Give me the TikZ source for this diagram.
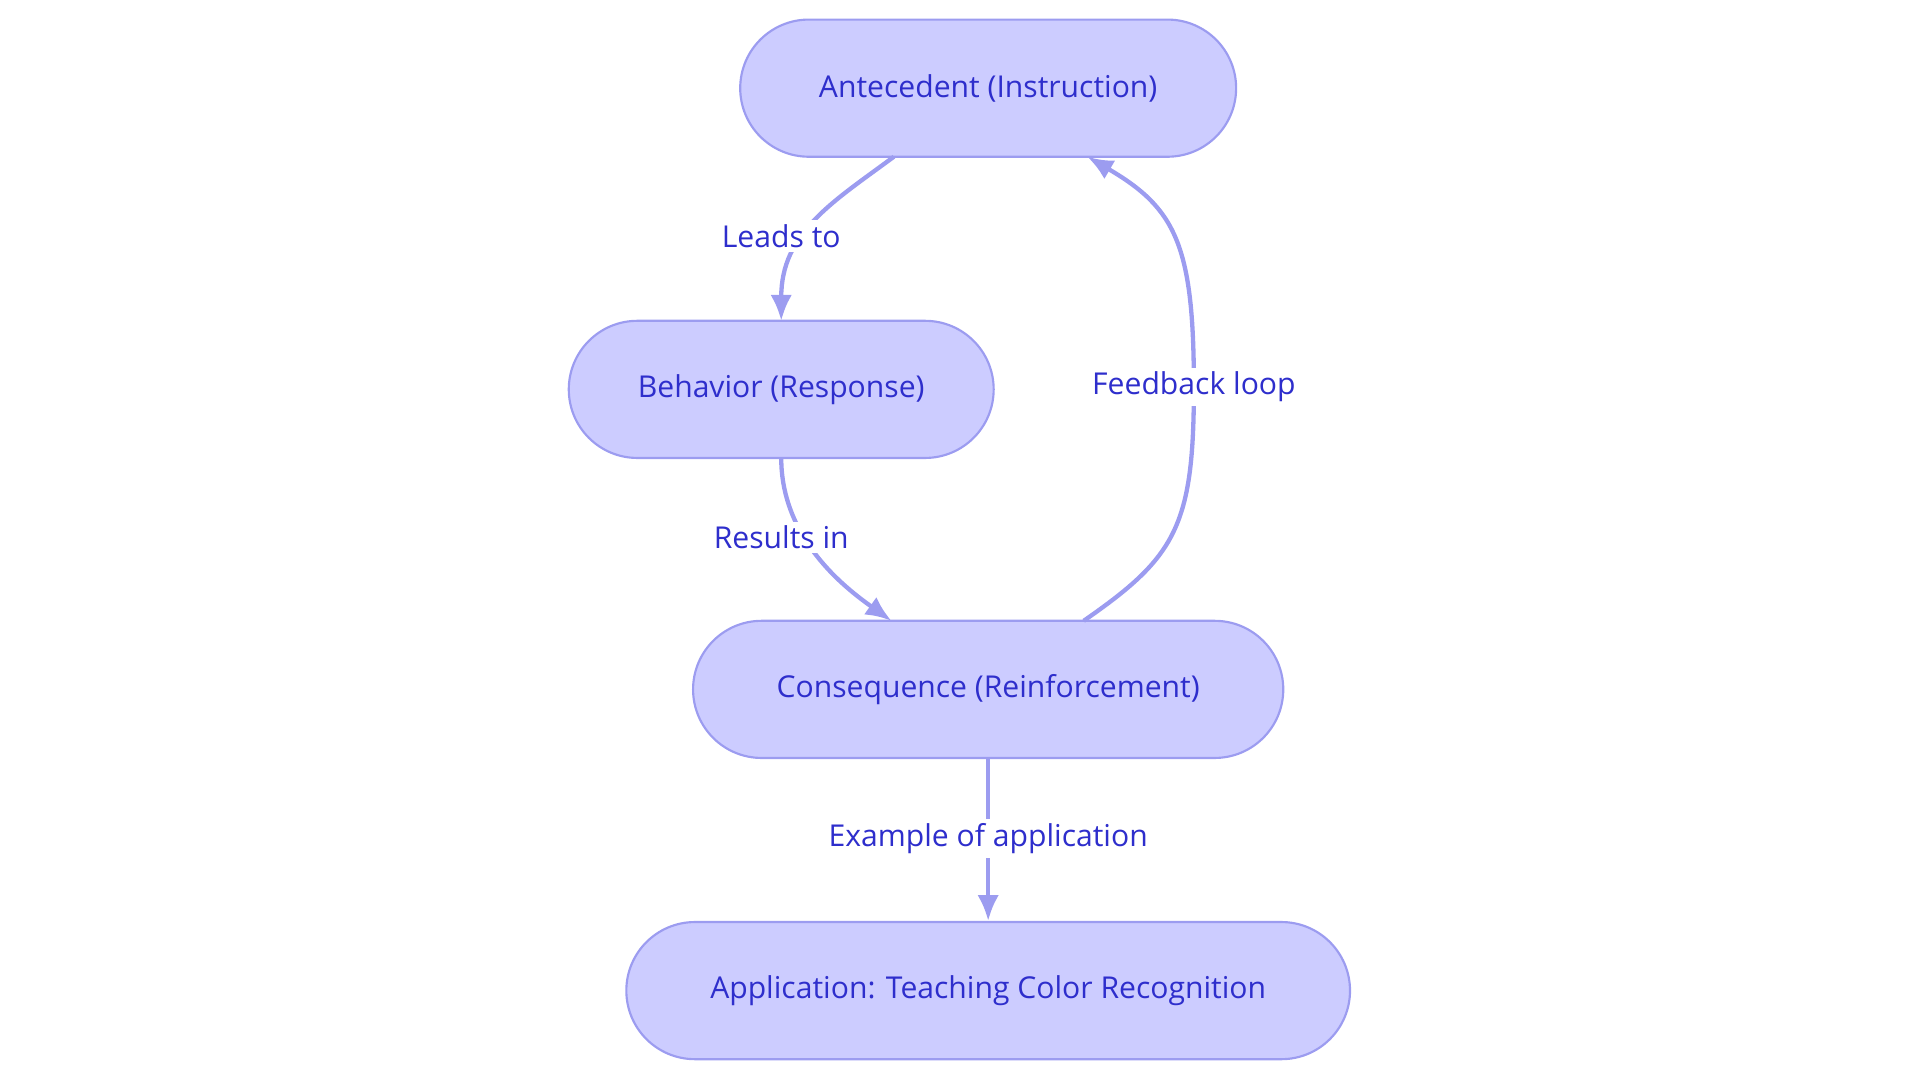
\documentclass[tikz,border=0pt]{standalone}
\usepackage{fontspec}
\setmainfont{Open Sans}
\usetikzlibrary{arrows.meta}
\definecolor{nfill}{HTML}{CCCCFF}
\definecolor{nedge}{HTML}{9C9CF0}
\definecolor{ntext}{HTML}{2E2ECC}
\begin{document}
\begin{tikzpicture}[x=0.02cm,y=-0.02cm,
  box/.style={draw=nedge,fill=nfill,line width=1pt,rounded corners=56*0.02cm,minimum height=112*0.02cm,text=ntext,font=\fontsize{14}{16}\selectfont,inner sep=0pt},
  conn/.style={draw=nedge,line width=2pt,-{Latex[length=12pt,width=10pt]}},
  lbl/.style={fill=white,text=ntext,font=\fontsize{14}{16}\selectfont,inner sep=2pt}]
\useasboundingbox (0,0) rectangle (1568,884);
\node[box,minimum width=405*0.02cm] (A) at (807,72) {Antecedent (Instruction)};
\node[box,minimum width=347*0.02cm] (B) at (638,318) {Behavior (Response)};
\node[box,minimum width=482*0.02cm] (C) at (807,563) {Consequence (Reinforcement)};
\node[box,minimum width=591*0.02cm] (D) at (807,809) {Application: Teaching Color Recognition};
\coordinate (a1) at (730,128);
\coordinate (b1) at (638,262);
\coordinate (b2) at (638,374);
\coordinate (c1) at (728,507);
\coordinate (c2) at (885,507);
\coordinate (a2) at (888,128);
\draw[conn] (a1) .. controls (680,165) and (638,190) .. (b1);
\draw[conn] (b2) .. controls (638,440) and (690,480) .. (c1);
\draw[conn] (c2) .. controls (960,455) and (975,430) .. (975,316) .. controls (975,200) and (960,170) .. (a2);
\draw[conn] (C) -- (D);
\node[lbl] (l1) at (638,193) {Leads to};
\node[lbl] (l2) at (638,439) {Results in};
\node[lbl] (l3) at (975,316) {Feedback loop};
\node[lbl] (l4) at (807,685) {Example of application};
\end{tikzpicture}
\end{document}
